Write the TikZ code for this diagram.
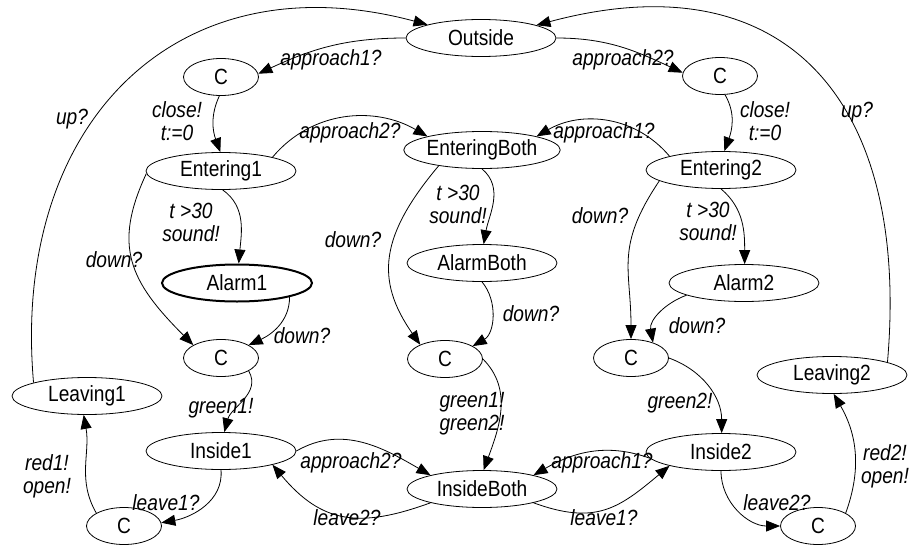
\documentclass[tikz,border=0pt]{standalone}
\usepackage{fontspec}
\setmainfont{Liberation Sans}[FakeStretch=0.87]
\usetikzlibrary{shapes.geometric,arrows.meta}

\begin{document}
\begin{tikzpicture}[x=1pt,y=1pt,
  state/.style={draw, ellipse, line width=0.8pt, minimum width=150pt,
    minimum height=37pt, inner sep=0pt, font=\fontsize{22}{23}\selectfont},
  cstate/.style={state, minimum width=75pt},
  alarm/.style={state, line width=2pt},
  tr/.style={-{Triangle[length=14pt,width=11pt]}, line width=0.8pt},
  lbl/.style={font=\fontsize{22}{23}\selectfont\itshape, inner sep=0pt, anchor=base},
  lbl2/.style={lbl, align=center, anchor=north}
]
\useasboundingbox (0,0) rectangle (913,-546);

% locations
\node[state]  (Outside)      at (481,-38)  {Outside};
\node[cstate] (C1)           at (221,-77)  {C};
\node[cstate] (C2)           at (720,-76)  {C};
\node[state]  (Entering1)    at (221,-171) {Entering1};
\node[state]  (EnteringBoth) at (482,-150) {EnteringBoth};
\node[state]  (Entering2)    at (721,-170) {Entering2};
\node[alarm]  (Alarm1)       at (237,-283) {Alarm1};
\node[state]  (AlarmBoth)    at (482,-263) {AlarmBoth};
\node[state]  (Alarm2)       at (744,-283) {Alarm2};
\node[cstate] (C3)           at (221,-358) {C};
\node[cstate] (C4)           at (445,-359) {C};
\node[cstate] (C5)           at (631,-358) {C};
\node[state]  (Leaving1)     at (87,-396)  {Leaving1};
\node[state]  (Leaving2)     at (832,-375) {Leaving2};
\node[state]  (Inside1)      at (221,-451) {Inside1};
\node[state]  (InsideBoth)   at (482,-489) {InsideBoth};
\node[state]  (Inside2)      at (721,-452) {Inside2};
\node[cstate] (C6)           at (124,-526) {C};
\node[cstate] (C7)           at (818,-526) {C};

% transitions
\draw[tr] (Outside.west) to[out=180,in=25] (C1.5)
  node[lbl] (t1) at (331,-65) {approach1?};
\draw[tr] (Outside.east) to[out=0,in=155] (C2.175)
  node[lbl] (t2) at (623,-65) {approach2?};
\draw[tr] (C1.265) to[out=245,in=110] (Entering1.92)
  node[lbl2] (t3) at (177,-101) {close!\\t:=0};
\draw[tr] (C2.285) to[out=-60,in=70] (Entering2.80)
  node[lbl2] (t4) at (765,-101) {close!\\t:=0};
\draw[tr] (Leaving1.166) to[out=95,in=165,out distance=260,in distance=260] (Outside.166)
  node[lbl] (t5) at (72,-124) {up?};
\draw[tr] (Leaving2.13) to[out=85,in=15,out distance=260,in distance=260] (Outside.13)
  node[lbl] (t6) at (857,-117) {up?};
\draw[tr] (Entering1.15) to[out=50,in=150] (EnteringBoth.166)
  node[lbl] (t7) at (350,-138) {approach2?};
\draw[tr] (Entering2.165) to[out=130,in=30] (EnteringBoth.14)
  node[lbl] (t8) at (604,-138) {approach1?};
\draw[tr] (Entering1.275) to[out=-35,in=85] (Alarm1.85)
  node[lbl2] (t9) at (191,-203) {t >30\\sound!};
\draw[tr] (Entering1.182) to[out=245,in=135,out distance=80,in distance=90] (C3.155)
  node[lbl] (t10) at (114,-267) {down?};
\draw[tr] (Alarm1.-15) to[out=-90,in=25] (C3.25)
  node[lbl] (t11) at (302,-343) {down?};
\draw[tr] (EnteringBoth.-90) to[out=-40,in=80] (AlarmBoth.85)
  node[lbl2] (t12) at (458,-185) {t >30\\sound!};
\draw[tr] (EnteringBoth.200) to[out=230,in=125,out distance=90,in distance=80] (C4.150)
  node[lbl] (t13) at (353,-247) {down?};
\draw[tr] (AlarmBoth.-90) to[out=-50,in=30] (C4.25)
  node[lbl] (t14) at (531,-321) {down?};
\draw[tr] (Entering2.-90) to[out=-40,in=90] (Alarm2.88)
  node[lbl2] (t15) at (708,-202) {t >30\\sound!};
\draw[tr] (Entering2.190) to[out=236,in=90,out distance=80,in distance=70] (C5.north)
  node[lbl] (t16) at (600,-223) {down?};
\draw[tr] (Alarm2.192) to[out=200,in=100] (C5.35)
  node[lbl] (t17) at (697,-333) {down?};
\draw[tr] (C3.-25) to[out=-60,in=75] (Inside1.80)
  node[lbl] (t18) at (221,-413) {green1!};
\draw[tr] (C4.east) to[out=-45,in=70] (InsideBoth.85)
  node[lbl2] (t19) at (472,-392) {green1!\\green2!};
\draw[tr] (C5.east) to[out=-20,in=90] (Inside2.88)
  node[lbl] (t20) at (680,-408) {green2!};
\draw[tr] (Inside1.east) to[out=30,in=150] (InsideBoth.165)
  node[lbl] (t21) at (351,-468) {approach2?};
\draw[tr] (InsideBoth.195) to[out=200,in=-50,looseness=1.2] (Inside1.-15)
  node[lbl] (t22) at (347,-525) {leave2?};
\draw[tr] (Inside2.185) to[out=160,in=30] (InsideBoth.15)
  node[lbl] (t23) at (602,-468) {approach1?};
\draw[tr] (InsideBoth.-15) to[out=-20,in=220,looseness=1.2] (Inside2.195)
  node[lbl] (t24) at (604,-525) {leave1?};
\draw[tr] (Inside1.-90) to[out=-85,in=10] (C6.5)
  node[lbl] (t25) at (166,-510) {leave1?};
\draw[tr] (C6.155) to[out=120,in=-80] (Leaving1.-100)
  node[lbl2] (t26) at (47,-454) {red1!\\open!};
\draw[tr] (Inside2.-90) to[out=-90,in=180] (C7.west)
  node[lbl] (t27) at (777,-510) {leave2?};
\draw[tr] (C7.25) to[out=70,in=-60] (Leaving2.-85)
  node[lbl2] (t28) at (885,-444) {red2!\\open!};
\end{tikzpicture}
\end{document}
